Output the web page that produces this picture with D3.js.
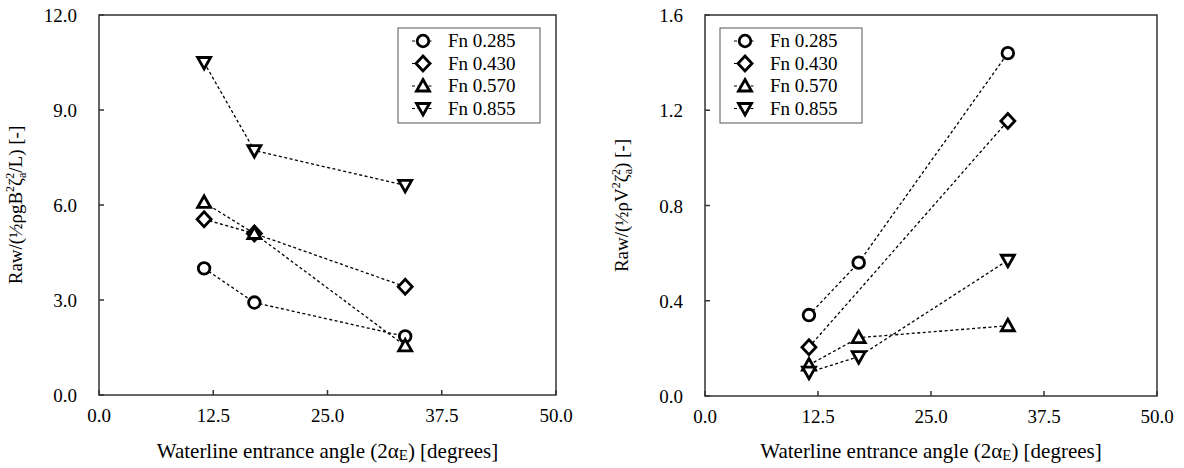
<!DOCTYPE html>
<html><head><meta charset="utf-8">
<script src="https://cdn.jsdelivr.net/npm/d3@7/dist/d3.min.js"></script>
<style>body{margin:0;background:#fff}svg text{font-family:"Liberation Serif","Times New Roman",Tinos,"DejaVu Serif",serif;fill:#000}</style>
</head><body><svg id="c" width="1184" height="468"></svg>
<script>
const series = ["Fn 0.285","Fn 0.430","Fn 0.570","Fn 0.855"];
const shapes = ["circle","diamond","up","down"];
const leftX = [[11.5,17,33.5],[11.5,17,33.5],[11.5,17,33.5],[11.5,17,33.5]];
const leftY = [[4.0,2.92,1.85],[5.55,5.1,3.42],[6.08,5.1,1.55],[10.5,7.72,6.62]];
const rightX = [[11.5,17,33.5],[11.5,33.5],[11.5,17,33.5],[11.5,17,33.5]];
const rightY = [[0.34,0.56,1.44],[0.205,1.155],[0.13,0.245,0.295],[0.1,0.165,0.57]];
const xTicks = [0,12.5,25,37.5,50];
const leftTicks = [0,3,6,9,12];
const rightTicks = [0,0.4,0.8,1.2,1.6];

const svg = d3.select("#c");
function marker(g, shape, x, y){
  let p;
  if(shape==="circle"){ g.append("circle").attr("cx",x).attr("cy",y).attr("r",5.8).attr("fill","#fff").attr("stroke","#000").attr("stroke-width",2.8); return; }
  if(shape==="diamond") p=[[x,y-7.5],[x+7,y],[x,y+7.5],[x-7,y]];
  if(shape==="up") p=[[x,y-6.5],[x+6.5,y+5],[x-6.5,y+5]];
  if(shape==="down") p=[[x,y+6.5],[x+6.5,y-5],[x-6.5,y-5]];
  g.append("polygon").attr("points",p.map(d=>d.join(",")).join(" ")).attr("fill","#fff").attr("stroke","#000").attr("stroke-width",2.8);
}
function txt(g){return g.append("text");}
function panel(o){
  const g=svg.append("g");
  const x=d3.scaleLinear().domain([0,50]).range([o.l,o.r]);
  const y=d3.scaleLinear().domain([0,o.max]).range([o.b,o.t]);
  g.append("rect").attr("x",o.l).attr("y",o.t).attr("width",o.r-o.l).attr("height",o.b-o.t).attr("fill","none").attr("stroke","#333").attr("stroke-width",1.5);
  g.selectAll(".xt").data(xTicks).join("line").attr("x1",d=>x(d)).attr("x2",d=>x(d)).attr("y1",o.b).attr("y2",o.b-5).attr("stroke","#333").attr("stroke-width",1.5);
  g.selectAll(".yt").data(o.ticks).join("line").attr("x1",o.l).attr("x2",o.l+5).attr("y1",d=>y(d)).attr("y2",d=>y(d)).attr("stroke","#333").attr("stroke-width",1.5);
  g.selectAll(".xl").data(xTicks).join("text").attr("x",d=>x(d)).attr("y",o.b+27).attr("text-anchor","middle").attr("font-size",19).text(d=>d.toFixed(1));
  g.selectAll(".yl").data(o.ticks).join("text").attr("x",o.l-22).attr("y",d=>y(d)+7).attr("text-anchor","end").attr("font-size",19).text(d=>d.toFixed(1));
  const xt=txt(g).attr("x",(o.l+o.r)/2).attr("y",458).attr("text-anchor","middle").attr("font-size",21);
  xt.append("tspan").text("Waterline entrance angle (2α");
  xt.append("tspan").attr("font-size",15).attr("dy",2).text("E");
  xt.append("tspan").attr("dy",-2).text(") [degrees]");
  const yt=txt(g).attr("transform",`translate(${o.l-77},${(o.t+o.b)/2}) rotate(-90)`).attr("text-anchor","middle").attr("font-size",19);
  o.ylab(yt);
  o.xs.forEach((xs,i)=>{
    const pts=xs.map((v,j)=>[x(v),y(o.ys[i][j])]);
    g.append("path").attr("d",d3.line()(pts)).attr("fill","none").attr("stroke","#000").attr("stroke-width",1.3).attr("stroke-dasharray","3,2.5");
    pts.forEach(p=>marker(g,shapes[i],p[0],p[1]));
  });
  const lg=g.append("g");
  lg.append("rect").attr("x",o.lx).attr("y",28).attr("width",142).attr("height",95).attr("fill","#fff").attr("stroke","#555").attr("stroke-width",1);
  series.forEach((s,i)=>{
    const yy=41+i*22.5;
    lg.append("line").attr("x1",o.lx+14).attr("x2",o.lx+36).attr("y1",yy).attr("y2",yy).attr("stroke","#000").attr("stroke-width",1).attr("stroke-dasharray","3,2.5");
    marker(lg,shapes[i],o.lx+25,yy);
    txt(lg).attr("x",o.lx+50).attr("y",yy+6).attr("font-size",19).text(s);
  });
}
function ylab(pre, post){
  return t=>{
    t.append("tspan").text(pre);
    t.append("tspan").attr("font-size",12).attr("dy",-8).text("2");
    t.append("tspan").attr("dy",8).text("ζ");
    t.append("tspan").attr("font-size",12).attr("dy",4).text("a");
    t.append("tspan").attr("font-size",12).attr("dx",-6).attr("dy",-12).text("2");
    t.append("tspan").attr("dy",8).text(post);
  };
}
panel({l:99,r:556,t:15,b:395,max:12,ticks:leftTicks,xs:leftX,ys:leftY,lx:398,ylab:ylab("Raw/(½ρgB","/L) [-]")});
panel({l:705,r:1157,t:15,b:396,max:1.6,ticks:rightTicks,xs:rightX,ys:rightY,lx:720,ylab:ylab("Raw/(½ρV",") [-]")});
</script></body></html>
